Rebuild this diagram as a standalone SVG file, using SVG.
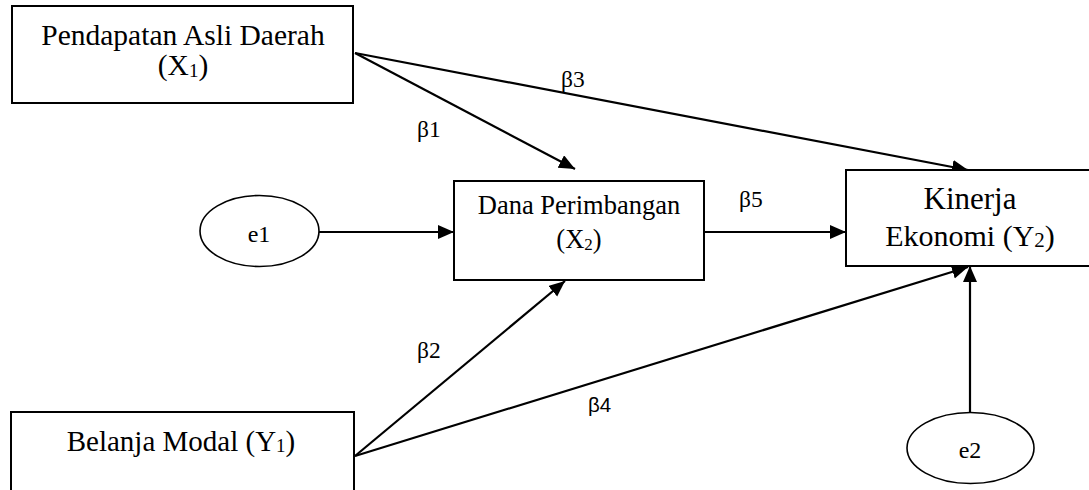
<svg xmlns="http://www.w3.org/2000/svg" width="1089" height="490" viewBox="0 0 1089 490">
  <style>
    .box { fill: #fff; stroke: #000; stroke-width: 2; }
    .oval { fill: #fff; stroke: #000; stroke-width: 1.6; }
    .lbl { font-family: "Liberation Serif", "Times New Roman", serif; fill: #000; text-anchor: middle; }
    .beta { font-family: "Liberation Serif", "Times New Roman", serif; font-size: 23.5px; fill: #000; }
    .link { stroke: #000; stroke-width: 2.2; fill: none; marker-end: url(#head); }
  </style>
  <defs>
    <marker id="head" markerUnits="userSpaceOnUse" markerWidth="17" markerHeight="15" refX="16" refY="7" orient="auto">
      <path d="M0,0 L16,7 L0,14 z" fill="#000"/>
    </marker>
  </defs>

  <rect width="1089" height="490" fill="#fff"/>

  <!-- paths between variables -->
  <g id="connectors">
    <line class="link" x1="355" y1="53" x2="575" y2="169"/>
    <line class="link" x1="355" y1="53" x2="968" y2="170"/>
    <line class="link" x1="319" y1="232" x2="454" y2="232"/>
    <line class="link" x1="704" y1="232" x2="846" y2="232"/>
    <line class="link" x1="355" y1="456" x2="565" y2="281"/>
    <line class="link" x1="355" y1="456" x2="968" y2="267"/>
    <line class="link" x1="970" y1="412" x2="970" y2="266"/>
  </g>

  <!-- coefficient labels -->
  <g id="coefficients">
    <text class="beta" x="417" y="137">β1</text>
    <text class="beta" x="561" y="87">β3</text>
    <text class="beta" x="739" y="207">β5</text>
    <text class="beta" x="417" y="358">β2</text>
    <text x="588" y="412" font-family="Liberation Sans, Arial, sans-serif" font-size="20.5" fill="#000">β4</text>
  </g>

  <g id="pad">
    <rect class="box" x="12" y="6" width="341" height="97"/>
    <text class="lbl" font-size="29.5" x="183" y="45">Pendapatan Asli Daerah</text>
    <text class="lbl" font-size="29.5" x="183" y="75">(X<tspan font-size="19" dy="2">1</tspan><tspan dy="-2">)</tspan></text>
  </g>

  <g id="dana-perimbangan">
    <rect class="box" x="454" y="181" width="250" height="99" stroke-width="1.6"/>
    <text class="lbl" font-size="26.5" x="579" y="214">Dana Perimbangan</text>
    <text class="lbl" font-size="26.5" x="579" y="248">(X<tspan font-size="17" dy="2">2</tspan><tspan dy="-2">)</tspan></text>
  </g>

  <g id="kinerja-ekonomi">
    <rect class="box" x="846" y="170" width="246" height="96"/>
    <text class="lbl" font-size="31" x="970" y="209">Kinerja</text>
    <text class="lbl" font-size="30" x="970" y="246">Ekonomi (Y<tspan font-size="21" dy="1">2</tspan><tspan dy="-1">)</tspan></text>
  </g>

  <g id="belanja-modal">
    <rect class="box" x="11" y="412" width="343" height="90" stroke-width="1.6"/>
    <text class="lbl" font-size="29" x="181" y="451">Belanja Modal (Y<tspan font-size="19" dy="1">1</tspan><tspan dy="-1">)</tspan></text>
  </g>

  <g id="e1">
    <ellipse class="oval" cx="259.5" cy="231" rx="59.5" ry="35.5"/>
    <text class="lbl" font-size="24" x="259" y="242">e1</text>
  </g>

  <g id="e2">
    <ellipse class="oval" cx="970.5" cy="448" rx="63.5" ry="35.5"/>
    <text class="lbl" font-size="24" x="970" y="458">e2</text>
  </g>
</svg>
